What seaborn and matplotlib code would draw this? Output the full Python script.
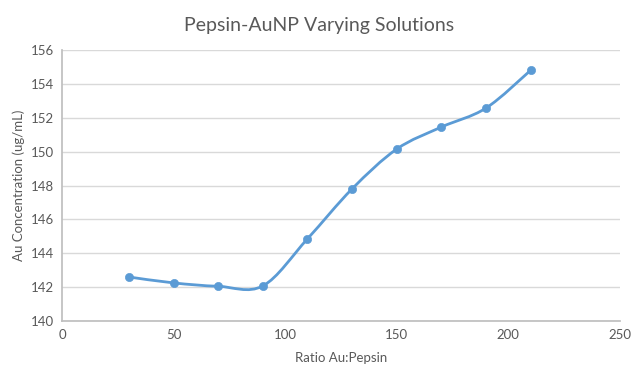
import matplotlib
matplotlib.use("Agg")
import matplotlib.pyplot as plt
from matplotlib.path import Path
from matplotlib.patches import PathPatch
import seaborn as sns
import pandas as pd

ratio = [30, 50, 70, 90, 110, 130, 150, 170, 190, 210]
conc = [142.6, 142.25, 142.05, 142.07, 144.85, 147.8, 150.15, 151.45, 152.57, 154.8]
df = pd.DataFrame({"ratio": ratio, "conc": conc})

blue = "#5B9BD5"
grey = "#595959"

sns.set_theme(style="white")
plt.rcParams["font.family"] = ["Lato", "DejaVu Sans"]

fig = plt.figure(figsize=(6.39, 3.79), dpi=100)
ax = fig.add_axes([0.097, 0.153, 0.873, 0.715])

# smooth curve through the points, drawn as cubic bezier segments (like Excel's smoothed line)
verts = [(ratio[0], conc[0])]
codes = [Path.MOVETO]
n = len(ratio)
for i in range(n - 1):
    p0 = (ratio[max(i - 1, 0)], conc[max(i - 1, 0)])
    p1 = (ratio[i], conc[i])
    p2 = (ratio[i + 1], conc[i + 1])
    p3 = (ratio[min(i + 2, n - 1)], conc[min(i + 2, n - 1)])
    c1 = (p1[0] + (p2[0] - p0[0]) / 6, p1[1] + (p2[1] - p0[1]) / 6)
    c2 = (p2[0] - (p3[0] - p1[0]) / 6, p2[1] - (p3[1] - p1[1]) / 6)
    verts += [c1, c2, p2]
    codes += [Path.CURVE4] * 3
ax.add_patch(PathPatch(Path(verts, codes), facecolor="none", edgecolor=blue, lw=2, zorder=3))

sns.scatterplot(data=df, x="ratio", y="conc", ax=ax, color=blue, s=35, edgecolor=blue, zorder=4)

ax.set_xlim(0, 250)
ax.set_ylim(140, 156)
ax.set_xticks(range(0, 251, 50))
ax.set_yticks(range(140, 157, 2))
ax.yaxis.grid(True, color="#D9D9D9", lw=1)
ax.set_axisbelow(True)
for s in ["top", "right"]:
    ax.spines[s].set_visible(False)
ax.spines["left"].set_color("#BFBFBF")
ax.spines["bottom"].set_color("#BFBFBF")
ax.tick_params(axis="both", colors=grey, labelsize=9.5, length=0, pad=6)

ax.set_xlabel("Ratio Au:Pepsin", color=grey, fontsize=9.5, labelpad=8)
ax.set_ylabel("Au Concentration (ug/mL)", color=grey, fontsize=9.5, labelpad=4)
fig.suptitle("Pepsin-AuNP Varying Solutions", x=0.5, y=0.955, color=grey, fontsize=14)

fig.savefig("out.png", dpi=100)
